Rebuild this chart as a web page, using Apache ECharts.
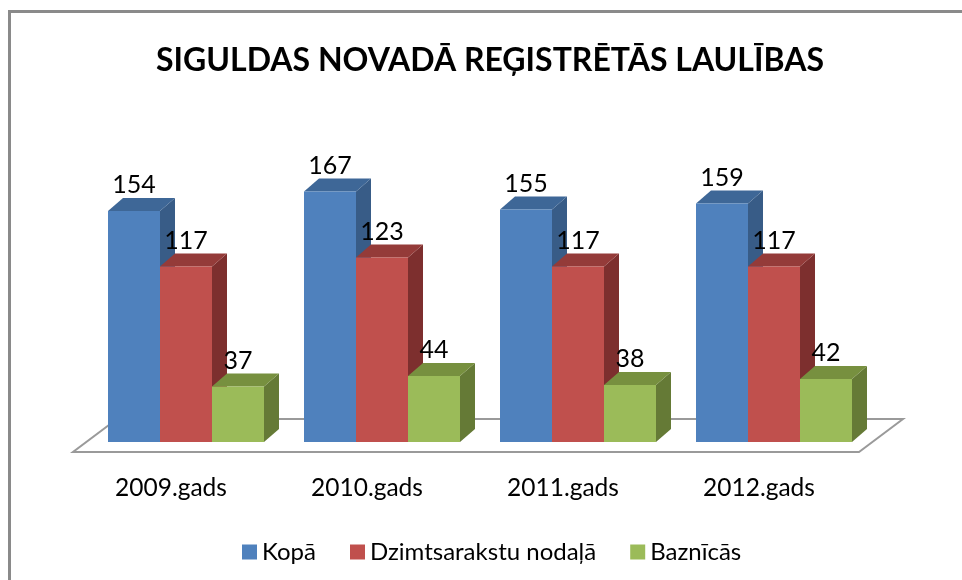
<!DOCTYPE html>
<html>
<head>
<meta charset="utf-8">
<script src="https://cdn.jsdelivr.net/npm/echarts@6/dist/echarts.min.js"></script>
<style>
  html, body { margin: 0; padding: 0; background: #fff; }
  #chart { width: 962px; height: 580px; }
</style>
</head>
<body>
<div id="chart"></div>
<script>
var years = ["2009.gads", "2010.gads", "2011.gads", "2012.gads"];
var seriesNames = ["Kopā", "Dzimtsarakstu nodaļā", "Baznīcās"];
var kopa = [154, 167, 155, 159];
var dzimts = [117, 123, 117, 117];
var baznicas = [37, 44, 38, 42];

var values = [kopa, dzimts, baznicas];
// front, top, side
var colors = [
  ["#4F81BD", "#3E6797", "#385C87"],
  ["#C0504D", "#943B39", "#7D2F2E"],
  ["#9BBB59", "#77903F", "#657A36"]
];
var barW = 52, depthX = 15, depthY = 13;
var font = "Lato";

function barItem(si) {
  return function (params, api) {
    var cat = api.value(0);
    var v = api.value(1);
    var base = api.coord([cat, 0]);
    var top = api.coord([cat, v]);
    var x0 = base[0] + (si - 1.5) * barW;
    var x1 = x0 + barW;
    var yb = base[1], yt = top[1];
    var c = colors[si];
    return {
      type: "group",
      children: [
        { type: "polygon", shape: { points: [[x1, yb], [x1 + depthX, yb - depthY], [x1 + depthX, yt - depthY], [x1, yt]] }, style: { fill: c[2] } },
        { type: "polygon", shape: { points: [[x0, yt], [x0 + depthX, yt - depthY], [x1 + depthX, yt - depthY], [x1, yt]] }, style: { fill: c[1] } },
        { type: "rect", shape: { x: x0, y: yt, width: barW, height: yb - yt }, style: { fill: c[0] } },
        { type: "text", z2: 100, style: { text: String(v), x: (x0 + x1) / 2, y: yt - depthY - 13, align: "center", verticalAlign: "middle", fontSize: 25, fontFamily: font, fill: "#000" } }
      ]
    };
  };
}

// the floor under the bars
function floorItem(params, api) {
  var band = api.size([1, 0])[0];
  var first = api.coord([0, 0]);
  var last = api.coord([years.length - 1, 0]);
  var lx = first[0] - band / 2 - 15;
  var rx = last[0] + band / 2 - 13;
  var fy = first[1] + 10;
  var dx = 44, dy = 33;
  return {
    type: "polygon",
    shape: { points: [[lx, fy], [rx, fy], [rx + dx, fy - dy], [lx + dx, fy - dy]] },
    style: { fill: "#fff", stroke: "#9a9a9a", lineWidth: 2 }
  };
}

var series = [{
  type: "custom",
  name: "floor",
  z: 1,
  renderItem: floorItem,
  data: [[0, 0]],
  silent: true
}];
for (var i = 0; i < seriesNames.length; i++) {
  series.push({
    type: "custom",
    name: seriesNames[i],
    z: 2,
    itemStyle: { color: colors[i][0] },
    renderItem: barItem(i),
    encode: { x: 0, y: 1 },
    data: values[i].map(function (v, k) { return [k, v]; })
  });
}

var myChart = echarts.init(document.getElementById("chart"));
var option = {
  animation: false,
  backgroundColor: "#fff",
  title: {
    text: "SIGULDAS NOVADĀ REĢISTRĒTĀS LAULĪBAS",
    left: 485,
    textAlign: "center",
    top: 40,
    textStyle: { fontSize: 32, fontWeight: "bold", fontFamily: font, color: "#000" }
  },
  legend: {
    data: seriesNames,
    left: 237,
    top: 535,
    icon: "rect",
    itemWidth: 15,
    itemHeight: 15,
    itemGap: 34,
    textStyle: { fontSize: 24, fontFamily: font, color: "#000" }
  },
  grid: { left: 88, width: 784, top: 142, height: 300 },
  xAxis: {
    type: "category",
    data: years,
    axisLine: { show: false },
    axisTick: { show: false },
    axisLabel: { fontSize: 24.5, fontFamily: font, color: "#000", margin: 34, padding: [0, 30, 0, 0] }
  },
  yAxis: {
    type: "value",
    min: 0,
    max: 200,
    show: false
  },
  graphic: [{
    type: "polyline",
    shape: { points: [[9.5, 580], [9.5, 11.5], [962, 11.5]] },
    style: { stroke: "#8a8a8a", lineWidth: 3, fill: null }
  }],
  series: series
};
myChart.setOption(option);
</script>
</body>
</html>
